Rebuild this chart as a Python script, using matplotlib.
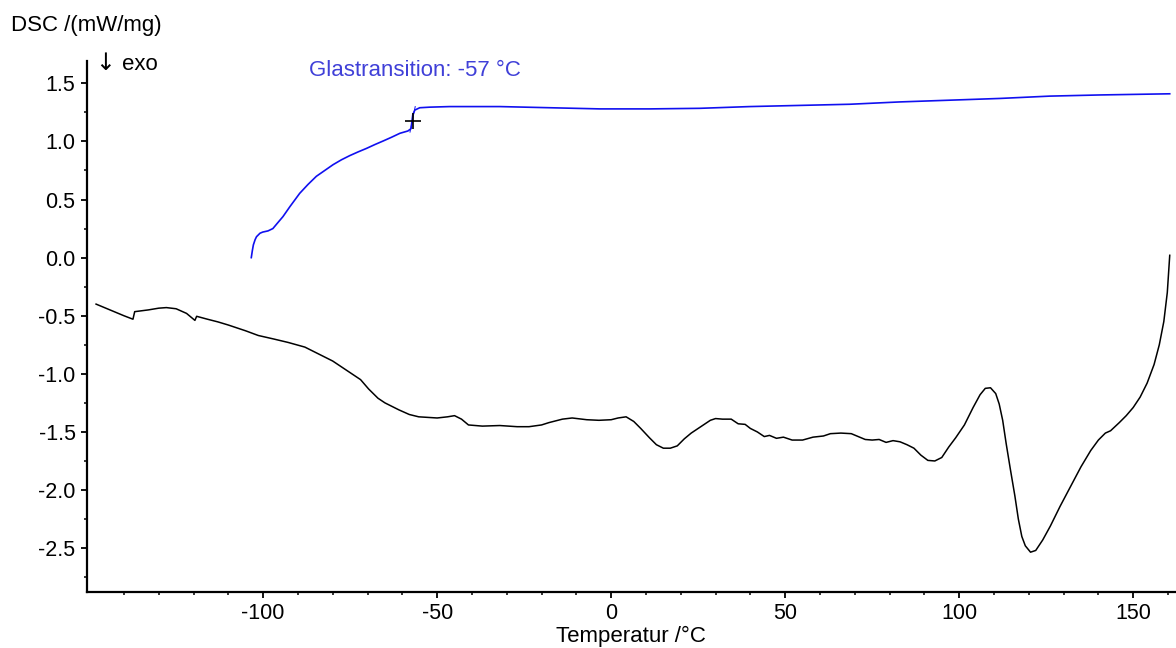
import matplotlib
matplotlib.use("Agg")
from matplotlib import pyplot as plt
from matplotlib.ticker import MultipleLocator, FixedLocator

plt.rcParams['font.family'] = ['Liberation Sans', 'DejaVu Sans']
plt.rcParams['axes.unicode_minus'] = False

# Messkurve (schwarz): Temperatur /°C, DSC /(mW/mg)
temp_mess = [-148.0, -144.0, -140.0, -137.4, -136.9, -133.0, -130.0, -127.8, -125.0,
             -122.0, -119.6, -119.1, -116.0, -113.0, -110.0, -105.0, -101.4, -97.0,
             -92.8, -88.0, -84.0, -80.0, -75.5, -72.0, -69.7, -67.0, -65.0, -61.0,
             -58.0, -55.3, -50.0, -47.0, -45.0, -43.0, -41.0, -37.0, -32.0, -27.0,
             -23.6, -20.0, -17.9, -14.0, -11.2, -7.0, -3.5, 0.0, 2.0, 4.3, 6.5, 8.5,
             11.0, 13.0, 15.0, 17.0, 19.0, 21.0, 23.0, 26.0, 28.5, 30.0, 32.0, 34.5,
             36.5, 38.5, 40.0, 42.0, 44.0, 45.5, 47.5, 49.5, 52.0, 55.0, 58.0, 61.0,
             63.0, 66.0, 69.0, 71.0, 73.0, 75.0, 77.0, 79.0, 81.0, 83.0, 85.0, 87.0,
             89.0, 91.0, 93.0, 95.0, 97.0, 99.0, 101.5, 104.0, 106.0, 107.5, 109.0,
             110.5, 111.5, 112.5, 113.5, 114.7, 116.0, 117.0, 118.0, 119.0, 120.5,
             122.0, 124.0, 126.2, 129.0, 132.0, 135.0, 137.8, 140.0, 142.0, 143.5,
             146.0, 148.0, 150.0, 152.0, 154.0, 156.0, 157.5, 158.8, 159.8, 160.5]
dsc_mess = [-0.40, -0.45, -0.50, -0.53, -0.465, -0.45, -0.435, -0.43, -0.44,
            -0.48, -0.54, -0.505, -0.53, -0.553, -0.58, -0.63, -0.67, -0.70,
            -0.73, -0.77, -0.83, -0.89, -0.98, -1.05, -1.13, -1.21, -1.25, -1.31,
            -1.35, -1.37, -1.38, -1.37, -1.36, -1.39, -1.44, -1.45, -1.445, -1.455,
            -1.455, -1.44, -1.42, -1.39, -1.38, -1.395, -1.40, -1.395, -1.38, -1.37,
            -1.41, -1.47, -1.55, -1.61, -1.64, -1.64, -1.62, -1.56, -1.51, -1.45,
            -1.40, -1.385, -1.39, -1.39, -1.43, -1.435, -1.47, -1.50, -1.54, -1.53,
            -1.555, -1.545, -1.57, -1.57, -1.545, -1.535, -1.515, -1.51, -1.515,
            -1.54, -1.565, -1.57, -1.565, -1.59, -1.575, -1.585, -1.61, -1.64, -1.70,
            -1.745, -1.75, -1.72, -1.63, -1.55, -1.44, -1.29, -1.18, -1.125, -1.12,
            -1.17, -1.26, -1.40, -1.60, -1.82, -2.05, -2.25, -2.40, -2.48, -2.535,
            -2.52, -2.43, -2.31, -2.14, -1.97, -1.80, -1.66, -1.57, -1.51, -1.49,
            -1.42, -1.36, -1.29, -1.20, -1.08, -0.92, -0.75, -0.55, -0.30, 0.02]

# Zweite Kurve (blau) mit Glasübergang
temp_glas = [-103.4, -103.1, -102.8, -102.3, -101.9, -100.9, -100.1, -98.6, -97.2,
             -95.8, -94.3, -92.3, -90.8, -89.5, -87.1, -84.7, -82.3, -79.9, -77.5,
             -75.1, -72.7, -70.3, -67.9, -65.5, -63.1, -60.7, -58.4, -57.5,
             -57.0, -56.4, -55.0, -52.1, -46.4, -32.0, -17.6, -3.2, 11.1, 25.5,
             39.8, 54.2, 68.6, 82.9, 97.3, 111.7, 126.0, 140.4, 160.5]
dsc_glas = [0.0, 0.06, 0.11, 0.155, 0.18, 0.21, 0.22, 0.23, 0.25,
            0.30, 0.353, 0.439, 0.50, 0.553, 0.63, 0.70, 0.75, 0.80, 0.842,
            0.878, 0.91, 0.94, 0.973, 1.004, 1.036, 1.07, 1.09, 1.11,
            1.23, 1.27, 1.29, 1.295, 1.30, 1.30, 1.29, 1.28, 1.28, 1.285,
            1.30, 1.31, 1.32, 1.34, 1.355, 1.37, 1.39, 1.40, 1.41]

# Tangente am Wendepunkt und Glasübergangspunkt
tangente_t = [-57.8, -56.3]
tangente_dsc = [1.08, 1.30]
tg_temp = -57
tg_dsc = 1.18

x_ticks = [-100, -50, 0, 50, 100, 150]
x_minor = list(range(-140, 161, 10))

fig = plt.figure(figsize=(11.76, 6.48), dpi=100)
ax = fig.add_axes([0.0737, 0.086, 0.9263, 0.820])

ax.plot(temp_mess, dsc_mess, color='black', lw=1.1)
ax.plot(temp_glas, dsc_glas, color='#1010f0', lw=1.2)
ax.plot(tangente_t, tangente_dsc, color='#1010f0', lw=0.7)
ax.plot([tg_temp], [tg_dsc], marker='+', color='black', ms=11, mew=1.2)

ax.set_xlim(-150.7, 162.3)
ax.set_ylim(-2.88, 1.693)

ax.xaxis.set_major_locator(FixedLocator(x_ticks))
ax.xaxis.set_minor_locator(FixedLocator(x_minor))
ax.yaxis.set_major_locator(MultipleLocator(0.5))
ax.yaxis.set_minor_locator(MultipleLocator(0.25))
ax.yaxis.set_major_formatter(plt.FuncFormatter(lambda v, p: '%.1f' % v))

for s in ['top', 'right']:
    ax.spines[s].set_visible(False)
for s in ['left', 'bottom']:
    ax.spines[s].set_linewidth(1.6)

ax.tick_params(which='major', direction='out', length=4, width=1.3, labelsize=15.5, pad=4)
ax.tick_params(which='minor', direction='out', length=2.5, width=1.1)

ax.set_xlabel('Temperatur /°C', fontsize=16, labelpad=1)

fig.text(11 / 1176, 1 - 25 / 648, 'DSC /(mW/mg)', fontsize=16, va='center', ha='left')
fig.text(95 / 1176, 1 - 63 / 648, '↓', fontsize=17, va='center', ha='left',
         family=['DejaVu Sans'])
fig.text(122 / 1176, 1 - 65 / 648, 'exo', fontsize=16, va='center', ha='left')
fig.text(309 / 1176, 1 - 70 / 648, 'Glastransition: -57 °C', fontsize=16,
         va='center', ha='left', color='#4040d8')

fig.savefig('out.png', dpi=100)
